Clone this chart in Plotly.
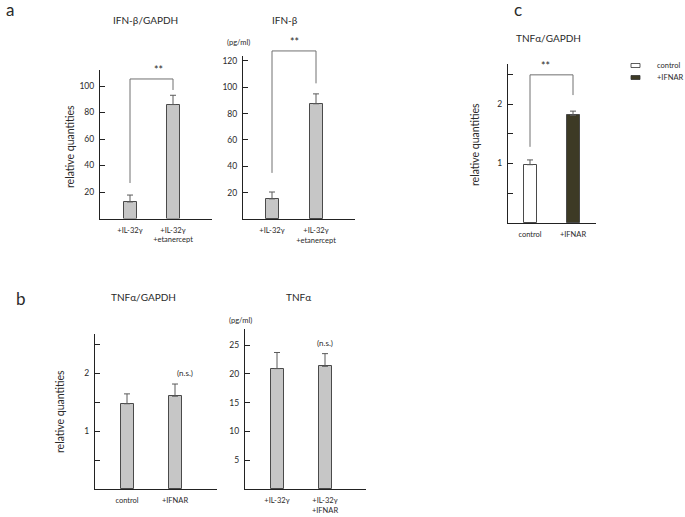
import plotly.graph_objects as go

W, H = 685, 517
FONT = "Lato"

# ---------------- data ----------------
a1_cats = ["+IL-32γ", "+IL-32γ<br>+etanercept"]
a1_vals = [12.5, 86.0]
a1_err = [5.2, 7.0]
a1_ticks = [20, 40, 60, 80, 100]
a1_ticktext = ["20", "40", "60", "80", "100"]

a2_cats = ["+IL-32γ", "+IL-32γ<br>+etanercept"]
a2_vals = [15.3, 87.5]
a2_err = [5.2, 7.5]
a2_ticks = [20, 40, 60, 80, 100, 120]
a2_ticktext = ["20", "40", "60", "80", "100", "120"]

b1_cats = ["control", "+IFNAR"]
b1_vals = [1.47, 1.60]
b1_err = [0.17, 0.21]
b1_ticks = [0.5, 1, 1.5, 2, 2.5]
b1_ticktext = ["", "1", "", "2", ""]

b2_cats = ["+IL-32γ", "+IL-32γ<br>+IFNAR"]
b2_vals = [20.9, 21.3]
b2_err = [2.8, 2.2]
b2_ticks = [5, 10, 15, 20, 25]
b2_ticktext = ["5", "10", "15", "20", "25"]

c_cats = ["control", "+IFNAR"]
c_vals = [0.98, 1.81]
c_err = [0.08, 0.07]
c_ticks = [0.5, 1, 1.5, 2, 2.5]
c_ticktext = ["", "1", "", "2", ""]

legend_names = ["control", "+IFNAR"]

GRAY = "#c6c6c6"
EDGE = "#4a4a4a"
DARK = "#3d3a25"
AX = "#222222"
TXT = "#2a2a2a"

# ---------------- layout geometry (pixels) ----------------
panels = [
    dict(cats=a1_cats, vals=a1_vals, errs=a1_err, fills=[GRAY, GRAY], tv=a1_ticks, tt=a1_ticktext,
         x0=100, x1=212, zero=218.5, top=70, scale=1.325, c0=130, c1=173),
    dict(cats=a2_cats, vals=a2_vals, errs=a2_err, fills=[GRAY, GRAY], tv=a2_ticks, tt=a2_ticktext,
         x0=243, x1=355, zero=219, top=56, scale=1.317, c0=272, c1=316),
    dict(cats=b1_cats, vals=b1_vals, errs=b1_err, fills=[GRAY, GRAY], tv=b1_ticks, tt=b1_ticktext,
         x0=95, x1=217, zero=489, top=334, scale=58.0, c0=127, c1=175),
    dict(cats=b2_cats, vals=b2_vals, errs=b2_err, fills=[GRAY, GRAY], tv=b2_ticks, tt=b2_ticktext,
         x0=245, x1=366, zero=489, top=329, scale=5.76, c0=277, c1=325),
    dict(cats=c_cats, vals=c_vals, errs=c_err, fills=["#ffffff", DARK], tv=c_ticks, tt=c_ticktext,
         x0=508, x1=596, zero=223, top=64, scale=59.5, c0=530, c1=573),
]

fig = go.Figure()
layout = dict(width=W, height=H, margin=dict(l=0, r=0, t=0, b=0),
              paper_bgcolor="white", plot_bgcolor="white", showlegend=False,
              font=dict(family=FONT, color=TXT), bargap=0)
shapes, annots = [], []


def to_paper(p, xd, yd):
    px = p["c0"] + xd * (p["c1"] - p["c0"])
    py = p["zero"] - yd * p["scale"]
    return px / W, 1 - py / H


for i, p in enumerate(panels, start=1):
    sfx = "" if i == 1 else str(i)
    unit = p["c1"] - p["c0"]
    ymax = (p["zero"] - p["top"]) / p["scale"]
    fig.add_trace(go.Bar(
        x=[0, 1], y=p["vals"], width=13 / unit,
        marker=dict(color=p["fills"], line=dict(color=EDGE, width=1)),
        error_y=dict(type="data", symmetric=False, array=p["errs"], arrayminus=[0, 0],
                     color="#5a5a5a", thickness=1, width=3),
        xaxis="x" + sfx, yaxis="y" + sfx, hoverinfo="skip"))
    layout["xaxis" + sfx] = dict(
        domain=[p["x0"] / W, p["x1"] / W], anchor="y" + sfx,
        range=[(p["x0"] - p["c0"]) / unit, (p["x1"] - p["c0"]) / unit],
        tickvals=[0, 1], ticktext=p["cats"], ticks="", showgrid=False, zeroline=False,
        showline=True, linecolor=AX, linewidth=1.2, ticklabelstandoff=4,
        tickfont=dict(size=7.5, color=TXT, family=FONT))
    layout["yaxis" + sfx] = dict(
        domain=[1 - p["zero"] / H, 1 - p["top"] / H], anchor="x" + sfx,
        range=[0, ymax], tickvals=p["tv"], ticktext=p["tt"], ticks="inside", ticklen=5,
        tickcolor=AX, tickwidth=1, showgrid=False, zeroline=False,
        showline=True, linecolor=AX, linewidth=1.2, ticklabelstandoff=3,
        tickfont=dict(size=8.5, color=TXT, family=FONT))


def bracket(p, ylev, yl, yr, label="**"):
    xl, yL = to_paper(p, 0, yl)
    xr, yR = to_paper(p, 1, yr)
    _, yT = to_paper(p, 0, ylev)
    shapes.append(dict(type="path", xref="paper", yref="paper",
                       path=f"M {xl},{yL} L {xl},{yT} L {xr},{yT} L {xr},{yR}",
                       line=dict(color="#707070", width=1)))
    annots.append(dict(x=(xl + xr) / 2, y=yT + 1 / H, xref="paper", yref="paper",
                       text=label, showarrow=False, yanchor="bottom",
                       font=dict(size=10.5, color=TXT, family=FONT)))


bracket(panels[0], 105.3, 26.8, 97)
bracket(panels[1], 127.6, 35, 103)
bracket(panels[4], 2.49, 1.28, 2.15)

# n.s. labels
for p in (panels[2], panels[3]):
    xx, yy = to_paper(p, 1, p["vals"][1] + p["errs"][1])
    annots.append(dict(x=xx, y=yy + 4 / H, xref="paper", yref="paper", text="(n.s.)",
                       showarrow=False, yanchor="bottom", font=dict(size=8, color=TXT, family=FONT)))


def txt(x, y, t, size, angle=0, xanchor="center"):
    annots.append(dict(x=x / W, y=1 - y / H, xref="paper", yref="paper", text=t,
                       showarrow=False, textangle=angle, xanchor=xanchor, yanchor="middle",
                       font=dict(size=size, color=TXT, family=FONT)))


# panel letters
txt(10, 10, "a", 17)
txt(21, 298, "b", 17)
txt(518, 10, "c", 17)
# titles
txt(145, 20, "IFN-β/GAPDH", 10)
txt(285, 20, "IFN-β", 10)
txt(548, 38, "TNFα/GAPDH", 10)
txt(143, 297, "TNFα/GAPDH", 10)
txt(298, 297, "TNFα", 10)
# y titles
txt(70, 147, "relative quantities", 10.5, angle=-90)
txt(60, 412, "relative quantities", 10.5, angle=-90)
txt(475, 145, "relative quantities", 10.5, angle=-90)
# units
txt(238, 42, "(pg/ml)", 7.5)
txt(240, 320, "(pg/ml)", 7.5)

# legend
leg_fill = ["#ffffff", DARK]
for k, name in enumerate(legend_names):
    yc = 65.5 + k * 12
    shapes.append(dict(type="rect", xref="paper", yref="paper",
                       x0=631 / W, x1=640 / W, y0=1 - (yc - 2) / H, y1=1 - (yc + 2) / H,
                       fillcolor=leg_fill[k], line=dict(color="#333333", width=0.8)))
    txt(655, yc, name, 7.5, xanchor="left")

layout["shapes"] = shapes
layout["annotations"] = annots
fig.update_layout(**layout)
fig.write_html("out.html", config={"displayModeBar": False},
               post_script="document.body.style.margin='0';document.body.style.overflow='hidden';")
